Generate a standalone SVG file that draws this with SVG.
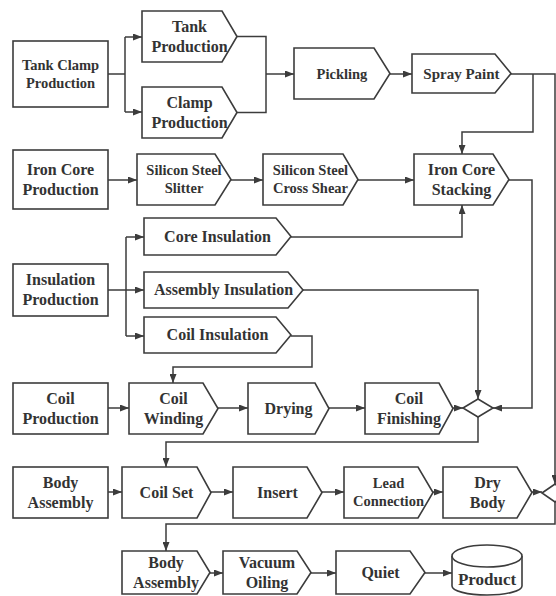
<svg xmlns="http://www.w3.org/2000/svg" width="556" height="596" viewBox="0 0 556 596">
<style>
.s{fill:#fff;stroke:#3c3c3c;stroke-width:1.6}
.c{fill:none;stroke:#3c3c3c;stroke-width:1.5}
text{font-family:"Liberation Serif","Times New Roman",serif;font-weight:bold;font-size:16px;fill:#333;text-anchor:middle}
.sm{font-size:14.5px}
</style>
<defs>
<marker id="a" markerUnits="userSpaceOnUse" markerWidth="9" markerHeight="7" refX="9" refY="3.5" orient="auto">
<path d="M0,0 L9,3.5 L0,7 z" fill="#3c3c3c"/>
</marker>
</defs>
<rect width="556" height="596" fill="#fff"/>
<g id="connectors" class="c">
<path d="M108,74 H125 M125,37 V112" />
<path d="M125,37 H142" marker-end="url(#a)"/>
<path d="M125,112 H142" marker-end="url(#a)"/>
<path d="M237,36.5 H266 V112.5 H237"/>
<path d="M266,74 H294" marker-end="url(#a)"/>
<path d="M390,74 H412" marker-end="url(#a)"/>
<path d="M511,74 H555 V484" marker-end="url(#a)"/>
<path d="M533,74 V132 H462 V154" marker-end="url(#a)"/>
<path d="M108,180 H137" marker-end="url(#a)"/>
<path d="M231,180 H263" marker-end="url(#a)"/>
<path d="M358,180 H414" marker-end="url(#a)"/>
<path d="M291,237 H462 V205" marker-end="url(#a)"/>
<path d="M108,290 H126 M126,237 V336"/>
<path d="M126,237 H144" marker-end="url(#a)"/>
<path d="M126,290 H144" marker-end="url(#a)"/>
<path d="M126,336 H144" marker-end="url(#a)"/>
<path d="M303,290 H478 V399" marker-end="url(#a)"/>
<path d="M509,180 H532 V408 H493" marker-end="url(#a)"/>
<path d="M291,336 H312 V367 H173 V383" marker-end="url(#a)"/>
<path d="M108,408 H129" marker-end="url(#a)"/>
<path d="M218,408 H248" marker-end="url(#a)"/>
<path d="M329,408 H365" marker-end="url(#a)"/>
<path d="M453,408 H463" marker-end="url(#a)"/>
<path d="M478,417 V442 H166 V467" marker-end="url(#a)"/>
<path d="M108,492 H122" marker-end="url(#a)"/>
<path d="M211,492 H233" marker-end="url(#a)"/>
<path d="M322,492 H344" marker-end="url(#a)"/>
<path d="M433,492 H443" marker-end="url(#a)"/>
<path d="M532,492 H542" marker-end="url(#a)"/>
<path d="M555,502 V524 H166 V551" marker-end="url(#a)"/>
<path d="M210,573 H223" marker-end="url(#a)"/>
<path d="M311,573 H336" marker-end="url(#a)"/>
<path d="M425,573 H452" marker-end="url(#a)"/>
</g>
<g id="tank-clamp-production"><rect class="s" x="13" y="41" width="95" height="66"/><text class="sm" x="60.5" y="69.8">Tank Clamp</text><text class="sm" x="60.5" y="87.8">Production</text></g>
<g id="tank-production"><path class="s" d="M142,11 H222 L237,36.5 L222,62 H142 Z"/><text x="189.5" y="32">Tank</text><text x="189.5" y="52">Production</text></g>
<g id="clamp-production"><path class="s" d="M142,87 H222 L237,112.5 L222,138 H142 Z"/><text x="189.5" y="108">Clamp</text><text x="189.5" y="128">Production</text></g>
<g id="pickling"><path class="s" d="M294,48 H374 L390,73.5 L374,99 H294 Z"/><text class="sm" x="342" y="78.5">Pickling</text></g>
<g id="spray-paint"><path class="s" d="M412,54 H495 L511,73.5 L495,93 H412 Z"/><text x="461.5" y="78.5" style="font-size:15px">Spray Paint</text></g>
<g id="iron-core-production"><rect class="s" x="13" y="150" width="95" height="59"/><text x="60.5" y="175">Iron Core</text><text x="60.5" y="195">Production</text></g>
<g id="silicon-steel-slitter"><path class="s" d="M137,154 H215 L231,179.5 L215,205 H137 Z"/><text class="sm" x="184" y="175.3">Silicon Steel</text><text class="sm" x="184" y="193.3">Slitter</text></g>
<g id="silicon-steel-cross-shear"><path class="s" d="M263,154 H343 L358,179.5 L343,205 H263 Z"/><text class="sm" x="310.5" y="175.3">Silicon Steel</text><text class="sm" x="310.5" y="193.3">Cross Shear</text></g>
<g id="iron-core-stacking"><path class="s" d="M414,154 H493 L509,179.5 L493,205 H414 Z"/><text x="461.5" y="175">Iron Core</text><text x="461.5" y="195">Stacking</text></g>
<g id="core-insulation"><path class="s" d="M144,218 H276 L291,236.5 L276,255 H144 Z"/><text x="217.5" y="241.8">Core Insulation</text></g>
<g id="insulation-production"><rect class="s" x="13" y="264" width="95" height="52"/><text x="60.5" y="285.3">Insulation</text><text x="60.5" y="305.3">Production</text></g>
<g id="assembly-insulation"><path class="s" d="M144,272 H288 L303,290 L288,308 H144 Z"/><text x="223.5" y="295.3">Assembly Insulation</text></g>
<g id="coil-insulation"><path class="s" d="M144,317 H276 L291,335 L276,353 H144 Z"/><text x="217.5" y="340.3">Coil Insulation</text></g>
<g id="coil-production"><rect class="s" x="13" y="383" width="95" height="51"/><text x="60.5" y="403.8">Coil</text><text x="60.5" y="423.8">Production</text></g>
<g id="coil-winding"><path class="s" d="M129,383 H203 L218,408.5 L203,434 H129 Z"/><text x="173.5" y="403.8">Coil</text><text x="173.5" y="423.8">Winding</text></g>
<g id="drying"><path class="s" d="M248,383 H315 L329,408.5 L315,434 H248 Z"/><text x="288.5" y="413.8">Drying</text></g>
<g id="coil-finishing"><path class="s" d="M365,383 H439 L453,408.5 L439,434 H365 Z"/><text x="409" y="403.8">Coil</text><text x="409" y="423.8">Finishing</text></g>
<g id="merge-1"><path class="s" d="M463,408 L478,399 L493,408 L478,417 Z"/></g>
<g id="body-assembly"><rect class="s" x="13" y="467" width="95" height="51"/><text x="60.5" y="487.8">Body</text><text x="60.5" y="507.8">Assembly</text></g>
<g id="coil-set"><path class="s" d="M122,467 H197 L211,492.5 L197,518 H122 Z"/><text x="166.5" y="497.8">Coil Set</text></g>
<g id="insert"><path class="s" d="M233,467 H307 L322,492.5 L307,518 H233 Z"/><text x="277.5" y="497.8">Insert</text></g>
<g id="lead-connection"><path class="s" d="M344,467 H418 L433,492.5 L418,518 H344 Z"/><text class="sm" x="388.5" y="488.3">Lead</text><text class="sm" x="388.5" y="506.3">Connection</text></g>
<g id="dry-body"><path class="s" d="M443,467 H517 L532,492.5 L517,518 H443 Z"/><text x="487.5" y="487.8">Dry</text><text x="487.5" y="507.8">Body</text></g>
<g id="merge-2"><path class="s" d="M542,493 L555,484 L568,493 L555,502 Z"/></g>
<g id="body-assembly-2"><path class="s" d="M122,551 H197 L210,572.5 L197,594 H122 Z"/><text x="166" y="567.8">Body</text><text x="166" y="587.8">Assembly</text></g>
<g id="vacuum-oiling"><path class="s" d="M223,551 H297 L311,572.5 L297,594 H223 Z"/><text x="267" y="567.8">Vacuum</text><text x="267" y="587.8">Oiling</text></g>
<g id="quiet"><path class="s" d="M336,551 H410 L425,572.5 L410,594 H336 Z"/><text x="380.5" y="577.8">Quiet</text></g>
<g id="product"><path class="s" d="M452,556 V586 A35,9 0 0 0 522,586 V556"/><ellipse class="s" cx="487" cy="556" rx="35" ry="11"/><text x="487" y="585" style="font-size:17px">Product</text></g>
</svg>
